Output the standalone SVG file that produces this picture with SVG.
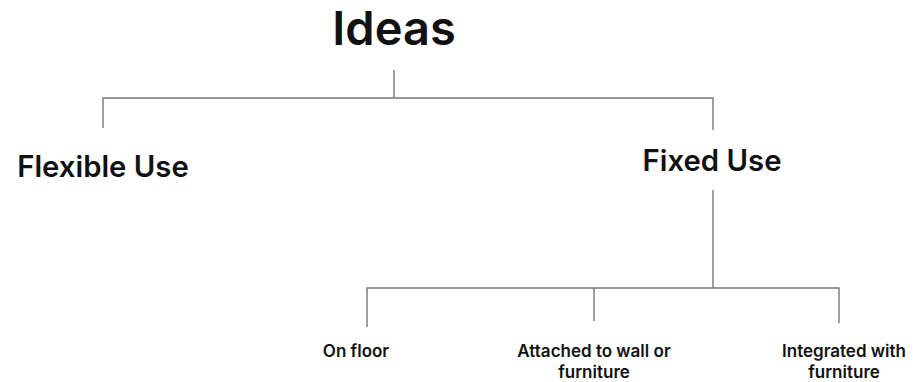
<svg xmlns="http://www.w3.org/2000/svg" width="914" height="382" viewBox="0 0 914 382">
<style>
text{font-family:Inter,"Liberation Sans",sans-serif;fill:#111;text-anchor:middle}
.t{font-size:47px;font-weight:600}
.m{font-size:29.3px;font-weight:600}
.s{font-size:17px;font-weight:600}
.c{fill:none;stroke:#777;stroke-width:1.4}
</style>
<rect width="914" height="382" fill="#fff"/>
<g id="connectors">
<path class="c" d="M394 70V98M103 128V98H713V130"/>
<path class="c" d="M713 190V288M367 327V288H839V323M594 288V321"/>
</g>
<g id="ideas"><text class="t" x="394" y="45">Ideas</text></g>
<g id="flexible"><text class="m" x="103" y="177">Flexible Use</text></g>
<g id="fixed"><text class="m" x="712" y="171">Fixed Use</text></g>
<g id="floor"><text class="s" x="356" y="357">On floor</text></g>
<g id="wall"><text class="s" x="594" y="357">Attached to wall or</text><text class="s" x="594" y="378">furniture</text></g>
<g id="integrated"><text class="s" x="844" y="357">Integrated with</text><text class="s" x="844" y="378">furniture</text></g>
</svg>
